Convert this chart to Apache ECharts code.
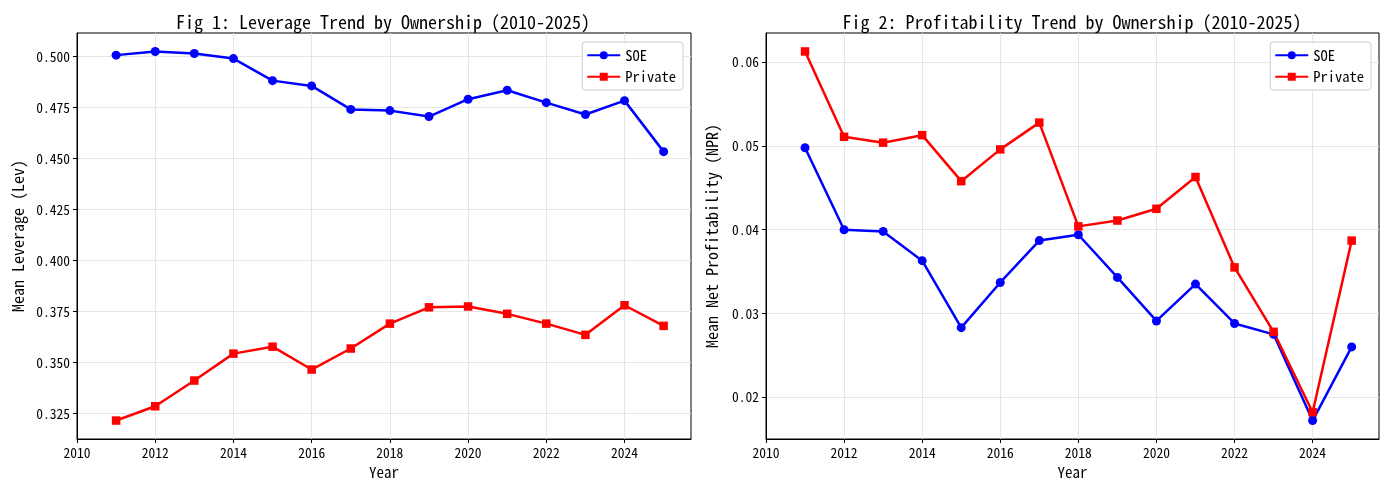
<!DOCTYPE html>
<html>
<head>
<meta charset="utf-8">
<script src="https://cdn.jsdelivr.net/npm/echarts@6/dist/echarts.min.js"></script>
<style>
html,body{margin:0;padding:0;background:#fff;}
#chart{width:1389px;height:490px;}
</style>
</head>
<body>
<div id="chart"></div>
<script>
// ---- data ----
const years = [2011,2012,2013,2014,2015,2016,2017,2018,2019,2020,2021,2022,2023,2024,2025];
const levSOE = [0.5007,0.5025,0.5015,0.4990,0.4882,0.4856,0.4741,0.4735,0.4706,0.4791,0.4835,0.4774,0.4716,0.4784,0.4534];
const levPrivate = [0.3216,0.3286,0.3412,0.3544,0.3578,0.3466,0.3569,0.3691,0.3771,0.3775,0.3739,0.3691,0.3636,0.3781,0.3680];
const npjSOE = [0.0498,0.0400,0.0398,0.0363,0.0283,0.0337,0.0387,0.0394,0.0343,0.0291,0.0335,0.0288,0.0275,0.0172,0.0260];
const npjPrivate = [0.0613,0.0511,0.0504,0.0513,0.0458,0.0496,0.0528,0.0404,0.0411,0.0425,0.0463,0.0355,0.0278,0.0182,0.0387];
const xTicks = [2010,2012,2014,2016,2018,2020,2022,2024];
const levTicks = [0.325,0.350,0.375,0.400,0.425,0.450,0.475,0.500];
const npjTicks = [0.02,0.03,0.04,0.05,0.06];

const MONO = '"Noto Sans Mono CJK SC","DejaVu Sans Mono",monospace';

function pairs(vals){ return years.map((y,i)=>[y, vals[i]]); }
function ext(a,b){ const all=a.concat(b); const mn=Math.min(...all), mx=Math.max(...all); const m=(mx-mn)*0.05; return [mn-m, mx+m]; }

const levExt = ext(levSOE, levPrivate);
const npjExt = ext(npjSOE, npjPrivate);

const chart = echarts.init(document.getElementById('chart'), null, {renderer:'canvas'});

function xAxis(idx){
  return {
    type:'value', gridIndex:idx, min:2010, max:2025.7,
    name:'Year', nameLocation:'middle', nameGap:26,
    nameTextStyle:{fontFamily:MONO, fontSize:15, color:'#000'},
    axisLine:{show:true, onZero:false, lineStyle:{color:'#000', width:1}},
    axisTick:{show:true, length:4, lineStyle:{color:'#000'}, customValues:xTicks},
    axisLabel:{color:'#000', fontFamily:MONO, fontSize:13.5, margin:7, customValues:xTicks, formatter:v=>String(v)},
    splitLine:{show:true, lineStyle:{color:'#e6e6e6', width:1}}
  };
}
function yAxis(idx, e, ticks, dec, name, gap){
  return {
    type:'value', gridIndex:idx, min:e[0], max:e[1],
    name:name, nameLocation:'middle', nameGap:gap,
    nameTextStyle:{fontFamily:MONO, fontSize:16, color:'#000'},
    axisLine:{show:true, onZero:false, lineStyle:{color:'#000', width:1}},
    axisTick:{show:true, length:4, lineStyle:{color:'#000'}, customValues:ticks},
    axisLabel:{color:'#000', fontFamily:MONO, fontSize:13.5, margin:7, customValues:ticks, formatter:v=>v.toFixed(dec)},
    splitLine:{show:true, lineStyle:{color:'#e6e6e6', width:1}}
  };
}
function series(name, vals, color, symbol, size, xi, yi){
  return {
    name:name, type:'line', xAxisIndex:xi, yAxisIndex:yi, data:pairs(vals),
    symbol:symbol, symbolSize:size, showAllSymbol:true,
    lineStyle:{color:color, width:2.5}, itemStyle:{color:color},
    emphasis:{disabled:true}, animation:false, clip:true
  };
}
function legend(right){
  return {
    data:['SOE','Private'], orient:'vertical', right:right, top:42,
    itemWidth:33, itemHeight:10, itemGap:7,
    padding:[6,7,6,4],
    borderColor:'#cccccc', borderWidth:1, borderRadius:3, backgroundColor:'rgba(255,255,255,0.85)',
    textStyle:{fontFamily:MONO, fontSize:14.5, color:'#000'},
    selectedMode:false
  };
}

chart.setOption({
  backgroundColor:'#fff',
  animation:false,
  title:[
    {text:'Fig 1: Leverage Trend by Ownership (2010-2025)', left:378, top:8, textAlign:'center',
     textStyle:{fontFamily:MONO, fontSize:18, fontWeight:'normal', color:'#000'}},
    {text:'Fig 2: Profitability Trend by Ownership (2010-2025)', left:1067, top:8, textAlign:'center',
     textStyle:{fontFamily:MONO, fontSize:18, fontWeight:'normal', color:'#000'}}
  ],
  legend:[legend(706), legend(18)],
  grid:[
    {left:77, right:698, top:33, bottom:51, show:true, borderColor:'#000', borderWidth:1, backgroundColor:'transparent'},
    {left:766, right:10, top:33, bottom:51, show:true, borderColor:'#000', borderWidth:1, backgroundColor:'transparent'}
  ],
  xAxis:[xAxis(0), xAxis(1)],
  yAxis:[
    yAxis(0, levExt, levTicks, 3, 'Mean Leverage (Lev)', 51),
    yAxis(1, npjExt, npjTicks, 2, 'Mean Net Profitability (NPR)', 46)
  ],
  series:[
    series('SOE', levSOE, '#0000ff', 'circle', 9, 0, 0),
    series('Private', levPrivate, '#ff0000', 'rect', 8.5, 0, 0),
    series('SOE', npjSOE, '#0000ff', 'circle', 9, 1, 1),
    series('Private', npjPrivate, '#ff0000', 'rect', 8.5, 1, 1)
  ]
});
</script>
</body>
</html>
